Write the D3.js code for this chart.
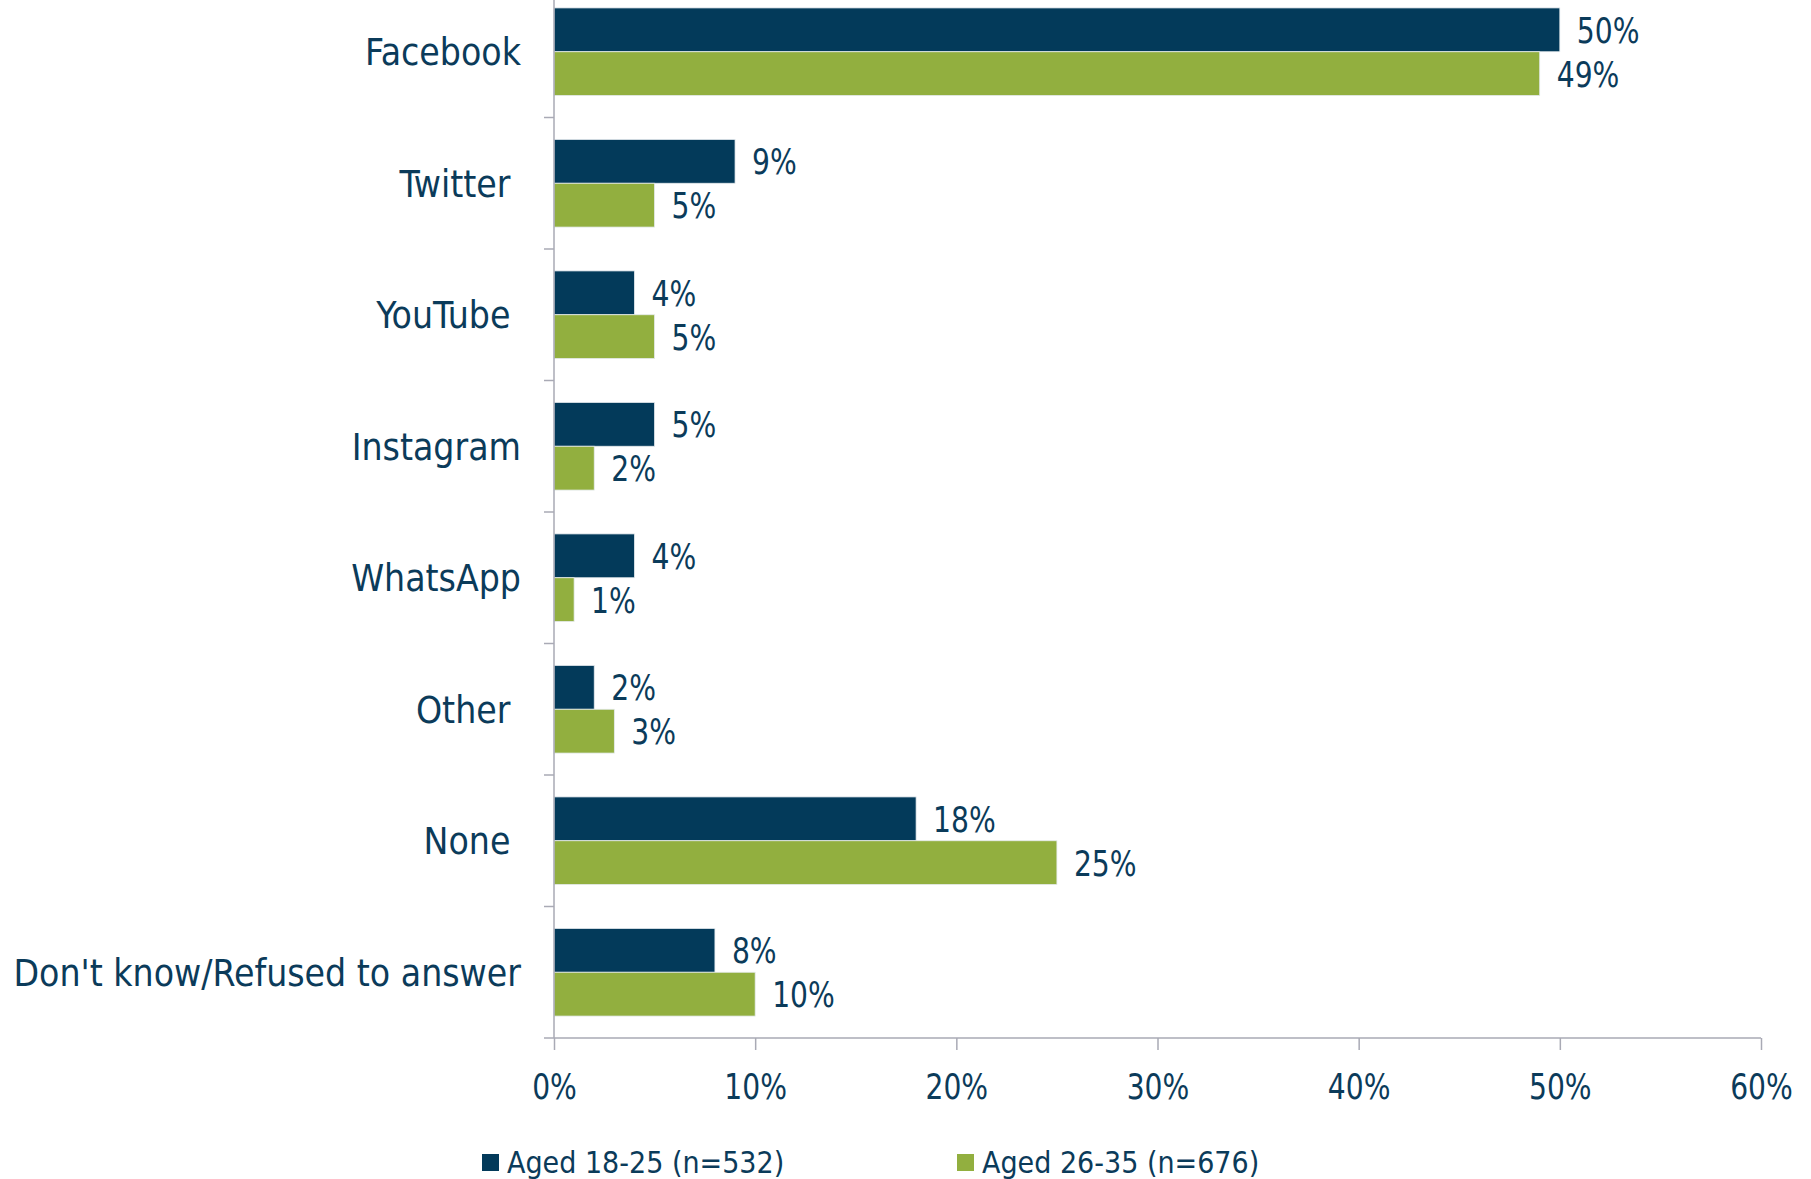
<!DOCTYPE html>
<html><head><meta charset="utf-8">
<script src="https://cdn.jsdelivr.net/npm/d3@7"></script>
<style>
body{margin:0;background:#fff;}
text{font-family:"DejaVu Sans Condensed","DejaVu Sans",sans-serif;fill:#0B3B5A;}
</style></head><body>
<svg id="chart" width="1811" height="1179"></svg>
<script>
const categories = ["Facebook","Twitter ","YouTube ","Instagram","WhatsApp","Other ","None ","Don't know/Refused to answer"];
const seriesNames = ["Aged 18-25 (n=532)","Aged 26-35 (n=676)"];
const aged18to25 = [50, 9, 4, 5, 4, 2, 18, 8];
const aged26to35 = [49, 5, 5, 2, 1, 3, 25, 10];
const xTicks = [0, 10, 20, 30, 40, 50, 60];
const colors = ["#033A5A", "#92AF3F"];

(function(){
const svg = d3.select("#chart");
const plotLeft = 554, plotRight = 1761, plotTop = -14, plotBottom = 1038;
const numScale = 0.87;

const x = d3.scaleLinear().domain([0, 60]).range([plotLeft, plotRight]);
const y0 = d3.scaleBand().domain(categories).range([plotTop, plotBottom]).paddingInner(0);
const y1 = d3.scaleBand().domain(seriesNames).range([0, y0.bandwidth()]).paddingInner(0).paddingOuter(0.5);

const rows = categories.map((c, i) => ({cat: c, vals: [aged18to25[i], aged26to35[i]]}));

const g = svg.append("g");
rows.forEach(r => {
  r.vals.forEach((v, j) => {
    const yy = y0(r.cat) + y1(seriesNames[j]);
    g.append("rect").attr("x", x(0)).attr("y", yy)
      .attr("width", x(v) - x(0)).attr("height", y1.bandwidth())
      .attr("fill", colors[j]).attr("stroke", "#e6ebef").attr("stroke-width", 0.8);
    g.append("text")
      .attr("transform", `translate(${x(v) + 17},${yy + y1.bandwidth() / 2}) scale(${numScale},1)`)
      .attr("dy", "0.36em").attr("font-size", 36).text(v + "%");
  });
});

svg.append("g").selectAll("text").data(categories).join("text")
  .attr("x", 521).attr("y", d => y0(d) + y0.bandwidth() / 2)
  .attr("dy", "0.36em").attr("text-anchor", "end").attr("font-size", 37)
  .style("white-space", "pre").text(d => d);

const axisColor = "#A9AAB5";
svg.append("line").attr("x1", plotLeft).attr("x2", plotLeft).attr("y1", 0).attr("y2", plotBottom)
  .attr("stroke", axisColor).attr("stroke-width", 1.5);
svg.append("g").selectAll("line").data(categories.slice(1)).join("line")
  .attr("x1", plotLeft - 10).attr("x2", plotLeft).attr("y1", d => y0(d)).attr("y2", d => y0(d))
  .attr("stroke", axisColor).attr("stroke-width", 1.5);

const xa = svg.append("g").attr("transform", `translate(0,${plotBottom})`)
  .call(d3.axisBottom(x).tickValues(xTicks).tickFormat(d => d + "%").tickSize(12).tickSizeOuter(0));
xa.select(".domain").attr("stroke", axisColor).attr("stroke-width", 1.5).attr("d", `M${plotLeft - 10},0H${plotRight}`);
xa.selectAll(".tick line").attr("stroke", axisColor).attr("stroke-width", 1.5);
xa.selectAll(".tick text").attr("font-size", 36).attr("font-family", null).attr("fill", "#0B3B5A")
  .attr("y", null).attr("dy", "0.36em").attr("transform", `translate(0,48) scale(${numScale},1)`);

const legX = [482, 957];
const legY = 1162;
seriesNames.forEach((s, j) => {
  svg.append("rect").attr("x", legX[j]).attr("y", legY - 8).attr("width", 17).attr("height", 17).attr("fill", colors[j]);
  svg.append("text").attr("x", legX[j] + 25).attr("y", legY).attr("dy", "0.36em").attr("font-size", 30).text(s);
});
})();
</script></body></html>
